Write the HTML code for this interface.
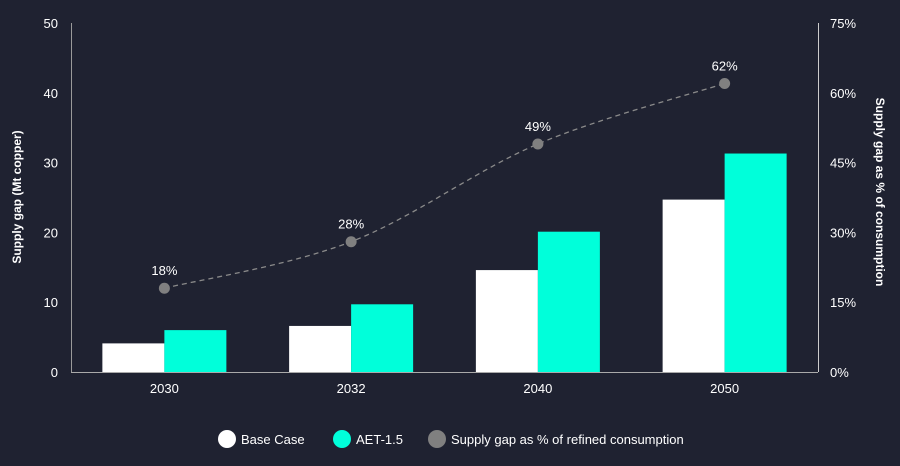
<!DOCTYPE html>
<html><head><meta charset="utf-8"><style>
body{margin:0;background:#1f2231;}
svg{display:block;font-family:"Liberation Sans",sans-serif;}
</style></head><body>
<svg id="chart" width="900" height="466"></svg>
<script>
const categories=["2030","2032","2040","2050"];
const baseCase=[4.1,6.6,14.6,24.7];
const aet15=[6.0,9.7,20.1,31.3];
const gapPct=[18,28,49,62];
const leftTicks=[0,10,20,30,40,50];
const rightTicks=[0,15,30,45,60,75];

const svg=document.getElementById('chart');
const NS='http://www.w3.org/2000/svg';
const X0=71,X1=818,Y0=372,Y1=23;
const band=(X1-X0)/categories.length;
const yL=v=>Y0-(v/50)*(Y0-Y1);
const yR=v=>Y0-(v/75)*(Y0-Y1);
const xC=i=>X0+band*(i+0.5);
function mk(tag,attrs,text){const e=document.createElementNS(NS,tag);for(const k in attrs)e.setAttribute(k,attrs[k]);if(text!==undefined)e.textContent=text;svg.appendChild(e);return e;}

leftTicks.forEach(t=>{const e=mk('text',{x:58,y:yL(t)+5,'text-anchor':'end','font-size':13,fill:'#fff'},t);

});
rightTicks.forEach(t=>{const e=mk('text',{x:830,y:yR(t)+5,'font-size':13,fill:'#fff'},t+'%');

});

categories.forEach((c,i)=>{
 const w=62;
 const b=mk('rect',{x:xC(i)-w,y:yL(baseCase[i]),width:w,height:Y0-yL(baseCase[i]),fill:'#ffffff'});
 
 
 const a=mk('rect',{x:xC(i),y:yL(aet15[i]),width:w,height:Y0-yL(aet15[i]),fill:'#00ffda'});
 
 
 const l=mk('text',{x:xC(i),y:393,'text-anchor':'middle','font-size':13,fill:'#fff'},c);
 
 
});

const axL=mk('line',{x1:X0+0.5,y1:Y1,x2:X0+0.5,y2:Y0,stroke:'#9a9a9a','stroke-width':1});


const axB=mk('line',{x1:X0,y1:Y0+0.5,x2:X1,y2:Y0+0.5,stroke:'#aaa','stroke-width':1});


const axR=mk('line',{x1:X1+0.5,y1:Y1,x2:X1+0.5,y2:Y0,stroke:'#ccc','stroke-width':1});



const pts=gapPct.map((v,i)=>[xC(i),yR(v)]);
let d='M'+pts[0][0]+','+pts[0][1];
for(let i=0;i<pts.length-1;i++){
 const p0=pts[Math.max(0,i-1)],p1=pts[i],p2=pts[i+1],p3=pts[Math.min(pts.length-1,i+2)];
 const c1=[p1[0]+(p2[0]-p0[0])/6,p1[1]+(p2[1]-p0[1])/6];
 const c2=[p2[0]-(p3[0]-p1[0])/6,p2[1]-(p3[1]-p1[1])/6];
 d+=` C${c1[0]},${c1[1]} ${c2[0]},${c2[1]} ${p2[0]},${p2[1]}`;
}
const ln=mk('path',{d:d,fill:'none',stroke:'#8a8a8a','stroke-width':1.3,'stroke-dasharray':'5,4'});


gapPct.forEach((v,i)=>{
 const c=mk('circle',{cx:xC(i),cy:yR(v),r:5.5,fill:'#808080'});
 
 
 const t=mk('text',{x:xC(i),y:yR(v)-13,'text-anchor':'middle','font-size':13,fill:'#fff'},v+'%');
 
 
});

const yt=mk('text',{transform:'translate(21,197) rotate(-90)','text-anchor':'middle','font-size':12,'font-weight':'bold',fill:'#fff'},'Supply gap (Mt copper)');


const yt2=mk('text',{transform:'translate(876,192) rotate(90)','text-anchor':'middle','font-size':12,'font-weight':'bold',fill:'#fff'},'Supply gap as % of consumption');



const leg=[['Base Case','#ffffff',227],['AET-1.5','#00ffda',342],['Supply gap as % of refined consumption','#808080',437]];
leg.forEach(([n,col,x])=>{
 const c=mk('circle',{cx:x,cy:439,r:9,fill:col});
 
 
 const t=mk('text',{x:x+14,y:444,'font-size':13,fill:'#fff'},n);
 
 
});
</script>
</body></html>
